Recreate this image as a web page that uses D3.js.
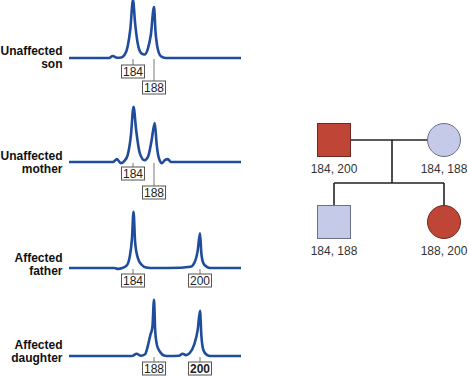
<!DOCTYPE html>
<html>
<head>
<meta charset="utf-8">
<script src="https://cdn.jsdelivr.net/npm/d3@7"></script>
<style>
  body { margin: 0; background: #fff; }
  svg { display: block; font-family: "Liberation Sans", Arial, Helvetica, sans-serif; }
</style>
</head>
<body>
<div id="chart"></div>
<script>
// ---- data ----
const panelNames = [["Unaffected", "son"], ["Unaffected", "mother"], ["Affected", "father"], ["Affected", "daughter"]];

// traces: [fragment size (bp), signal]
const sonTrace = [[172,0],[179.5,0],[180.2,3.5],[181,0.5],[181.8,1],[182.4,5],[183,20],[183.5,50],[184,100],[184.4,60],[184.9,25],[185.6,8],[186.2,6],[186.8,15],[187.4,40],[188,88],[188.4,45],[189,15],[189.8,3],[191,0],[212,0]];
const motherTrace = [[172,0],[180.2,0],[181,5],[181.7,-2],[182.4,2],[183,12],[183.6,45],[184.1,95],[184.6,55],[185.3,15],[186.2,3],[186.9,10],[187.5,35],[188.2,67],[188.7,30],[189.3,6],[190.1,-2],[190.8,3],[191.6,5],[192.4,0],[212,0]];
const fatherTrace = [[172,0],[180.5,0],[181.2,-1.5],[182,0],[182.8,4],[183.4,20],[183.8,50],[184.1,97],[184.4,45],[184.9,18],[185.6,6],[186.5,1],[188,0],[195,0.5],[197.5,2],[198.6,10],[199.4,30],[200,60],[200.4,25],[201,8],[202,2],[203,0],[212,0]];
const daughterTrace = [[172,0],[183.8,0],[184.7,4],[185.5,0.5],[186.3,3],[186.9,20],[187.3,36],[187.7,50],[188,97],[188.3,45],[188.8,18],[189.6,7],[190.6,1],[192,0],[194.5,0.5],[195.5,4],[196.3,1.5],[197.3,5],[198.5,20],[199.4,45],[200,78],[200.4,35],[201,10],[202,2],[203,0],[212,0]];
const traces = [sonTrace, motherTrace, fatherTrace, daughterTrace];

// allele call boxes per panel: [allele, row, bold]
const sonAlleles = [[184,0,false],[188,1,false]];
const motherAlleles = [[184,0,false],[188,1,false]];
const fatherAlleles = [[184,0,false],[200,0,false]];
const daughterAlleles = [[188,0,false],[200,0,true]];
const alleleCalls = [sonAlleles, motherAlleles, fatherAlleles, daughterAlleles];

// pedigree
const pedNames = ["father", "mother", "son", "daughter"];
const pedSex = ["M", "F", "M", "F"];
const pedAffected = [true, false, false, true];
const pedGeno = ["184, 200", "184, 188", "184, 188", "188, 200"];
const pedGen = [0, 0, 1, 1];
const pedCol = [0, 1, 0, 1];

// ---- layout ----
const W = 468, H = 376;
const baselines = [58, 162, 268, 356];
const labelY = [55, 160, 261.7, 349.3];
const rowTop = [[7, 23], [5, 24], [6, 6], [6, 6]];
const lineColor = "#1f4c9c";
const red = "#bf4637", blue = "#c4cae8";

const svg = d3.select("#chart").append("svg")
  .attr("width", W).attr("height", H);

svg.append("rect").attr("width", W).attr("height", H).attr("fill", "#fff");

// piecewise size scale (figure is not linear in bp)
const x = d3.scaleLinear()
  .domain([172, 184, 188, 200, 212])
  .range([69, 133, 154, 200, 241]);

traces.forEach((tr, i) => {
  const b = baselines[i];
  const y = d3.scaleLinear().domain([0, 100]).range([b, b - 58]);
  const g = svg.append("g");

  // name label, two lines
  panelNames[i].forEach((t, k) => {
    g.append("text")
      .attr("x", 62.5).attr("y", labelY[i] + k * 12.8)
      .attr("text-anchor", "end")
      .style("font-size", "12px").style("font-weight", 700).attr("fill", "#111")
      .text(t);
  });

  // allele ticks + boxes
  alleleCalls[i].forEach(([a, row, bold]) => {
    const top = b + rowTop[i][row];
    g.append("line")
      .attr("x1", x(a)).attr("x2", x(a))
      .attr("y1", b + 1).attr("y2", top)
      .attr("stroke", "#777").attr("stroke-width", 1);
    g.append("rect")
      .attr("x", x(a) - 11.5).attr("y", top)
      .attr("width", 23).attr("height", 13)
      .attr("fill", "#fff").attr("stroke", "#555").attr("stroke-width", 1);
    g.append("text")
      .attr("x", x(a)).attr("y", top + 11)
      .attr("text-anchor", "middle")
      .style("font-size", "12px").style("font-weight", bold ? 700 : 400)
      .attr("fill", "#222")
      .text(a);
  });

  const line = d3.line()
    .x(d => x(d[0]))
    .y(d => y(d[1]))
    .curve(d3.curveMonotoneX);

  g.append("path")
    .datum(tr)
    .attr("d", line)
    .attr("fill", "none")
    .attr("stroke", lineColor)
    .attr("stroke-width", 2.6)
    .attr("stroke-linejoin", "round");
});

// ---- pedigree ----
const px = d3.scalePoint().domain([0, 1]).range([334, 444]);
const py = d3.scalePoint().domain([0, 1]).range([140, 222]);
const half = 16.5;
const ped = svg.append("g");

// mating line, descent line, sibship line
ped.append("line").attr("x1", px(0)).attr("x2", px(1)).attr("y1", py(0)).attr("y2", py(0));
const mid = 392, sibY = 183;
ped.append("line").attr("x1", mid).attr("x2", mid).attr("y1", py(0)).attr("y2", sibY);
ped.append("line").attr("x1", px(0)).attr("x2", px(1)).attr("y1", sibY).attr("y2", sibY);
ped.append("line").attr("x1", px(0)).attr("x2", px(0)).attr("y1", sibY).attr("y2", py(1));
ped.append("line").attr("x1", px(1)).attr("x2", px(1)).attr("y1", sibY).attr("y2", py(1));
ped.selectAll("line").attr("stroke", "#222").attr("stroke-width", 1.6);

pedNames.forEach((n, i) => {
  const cx = px(pedCol[i]), cy = py(pedGen[i]);
  const fill = pedAffected[i] ? red : blue;
  const stroke = pedAffected[i] ? "#6e2a22" : "#6b7088";
  if (pedSex[i] === "M") {
    ped.append("rect")
      .attr("x", cx - half).attr("y", cy - half)
      .attr("width", half * 2).attr("height", half * 2)
      .attr("fill", fill).attr("stroke", stroke).attr("stroke-width", 1);
  } else {
    ped.append("circle")
      .attr("cx", cx).attr("cy", cy).attr("r", half)
      .attr("fill", fill).attr("stroke", stroke).attr("stroke-width", 1);
  }
  ped.append("text")
    .attr("x", cx).attr("y", cy + half + 16)
    .attr("text-anchor", "middle")
    .style("font-size", "12px").attr("fill", "#333")
    .text(pedGeno[i]);
});
</script>
</body>
</html>
